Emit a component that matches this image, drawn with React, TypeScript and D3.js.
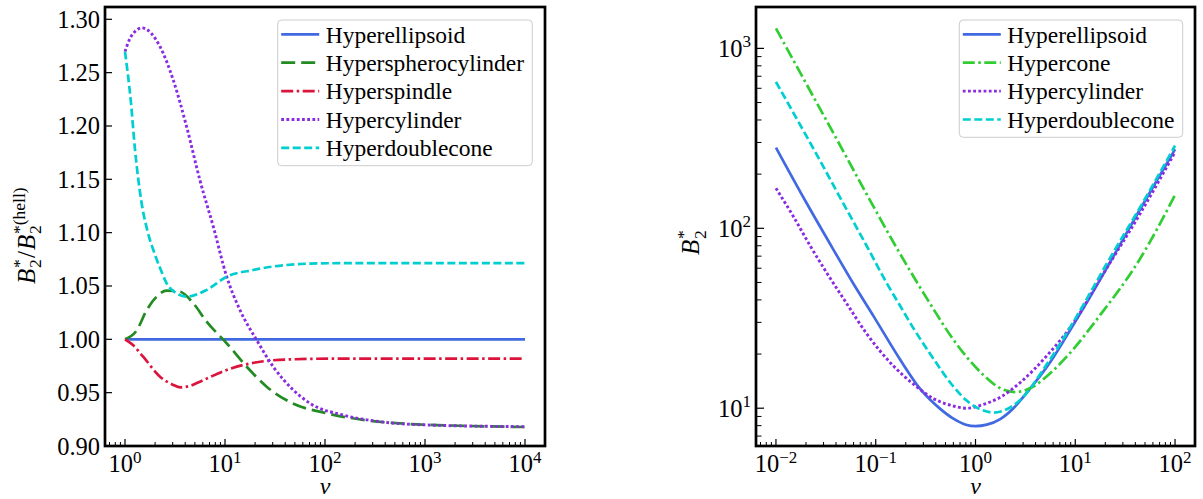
import React from 'react';
import * as d3 from 'd3';

// ---------------- Left panel data: B2*/B2*(hell) vs nu ----------------
const nuEllL = [1, 10, 100, 1000, 10000];
const valEllL = [1, 1, 1, 1, 1];

const nuSph = [1, 1.31, 1.65, 2.07, 2.61, 3.55, 4.82, 6.55, 10.4, 16.5, 26.1, 45, 105, 282, 700, 2240, 10000];
const valSph = [1.0, 1.0084, 1.0275, 1.04, 1.0456, 1.0447, 1.0338, 1.0166, 0.9963, 0.9743, 0.9556, 0.941, 0.9306, 0.9237, 0.9206, 0.919, 0.9178];

const nuSpin = [1, 1.21, 1.52, 2.24, 3.0, 3.6, 4.5, 5.62, 10.4, 22.4, 48, 150, 1000, 10000];
const valSpin = [1.0, 0.9944, 0.9837, 0.965, 0.9575, 0.955, 0.9565, 0.9603, 0.9713, 0.979, 0.9813, 0.982, 0.982, 0.982];

const nuCylL = [1, 1.12, 1.26, 1.47, 2.24, 3.04, 4.14, 5.62, 7.64, 10.4, 14.1, 20.7, 30.4, 48.2, 70.8, 152, 355, 1050, 10000];
const valCylL = [1.2697, 1.282, 1.2885, 1.292, 1.2744, 1.243, 1.199, 1.149, 1.1056, 1.0587, 1.0275, 0.9994, 0.9743, 0.9525, 0.94, 0.929, 0.9228, 0.9197, 0.9181];

const nuDcL = [1, 1.14, 1.26, 1.45, 1.7, 1.92, 2.24, 2.61, 3.29, 4.14, 6.55, 10.4, 19.2, 41.4, 105, 1000, 10000];
const valDcL = [1.2697, 1.2244, 1.1775, 1.1306, 1.0995, 1.0837, 1.0669, 1.0525, 1.0431, 1.04, 1.0463, 1.0587, 1.065, 1.0697, 1.0713, 1.0715, 1.0715];

// ---------------- Right panel data: B2* vs nu ----------------
const nuEllR = [0.01, 0.02, 0.037, 0.06, 0.095, 0.176, 0.279, 0.44, 0.6, 0.8, 1, 1.3, 1.77, 2.4, 3.27, 5.6, 9.6, 12.9, 20.8, 44.8, 100];
const valEllR = [281, 140, 77.4, 49, 32.5, 18.6, 12.8, 9.95, 8.75, 8.1, 7.95, 8.1, 8.7, 10.0, 12.2, 18.0, 29.2, 38.3, 60.5, 128, 275];

const nuCone = [0.01, 0.02, 0.04, 0.08, 0.163, 0.38, 0.557, 0.82, 1.2, 1.77, 2.5, 3.8, 5.5, 8.25, 17.8, 44.8, 100];
const valCone = [1291, 640, 318, 157, 77.4, 35.5, 25.5, 19.2, 15.3, 12.9, 12.3, 13.2, 15.5, 19.4, 33, 68, 153];

const nuCylR = [0.01, 0.015, 0.022, 0.032, 0.051, 0.081, 0.15, 0.239, 0.38, 0.557, 0.82, 1.2, 1.77, 2.81, 5.2, 9.6, 17.8, 44.8, 100];
const valCylR = [167, 116, 80, 57, 38.3, 26, 17.2, 13.6, 11.3, 10.4, 10.0, 10.5, 11.5, 13.9, 19.6, 29.8, 52.5, 121, 265];

const nuDcR = [0.01, 0.0257, 0.05, 0.081, 0.129, 0.176, 0.239, 0.38, 0.557, 0.82, 1.1, 1.52, 2.0, 2.8, 5.2, 11.2, 20.8, 48.3, 100];
const valDcR = [651, 256, 130, 80, 49.5, 37, 27.8, 18.8, 13.9, 11.0, 9.9, 9.46, 9.8, 11.1, 17.6, 35, 64, 141, 288];

// ---------------- Ticks ----------------
const leftYTicks = [0.9, 0.95, 1.0, 1.05, 1.1, 1.15, 1.2, 1.25, 1.3];
const leftXExps = [0, 1, 2, 3, 4];
const rightXExps = [-2, -1, 0, 1, 2];
const rightYExps = [1, 2, 3];

const FONT = '"Liberation Serif", "Times New Roman", serif';

type Series = { name: string; nu: number[]; val: number[]; color: string; dash: string | null; width: number };

const leftSeries: Series[] = [
  { name: 'Hyperellipsoid', nu: nuEllL, val: valEllL, color: '#4169E1', dash: null, width: 2.7 },
  { name: 'Hyperspherocylinder', nu: nuSph, val: valSph, color: '#228B22', dash: '14,6', width: 2.7 },
  { name: 'Hyperspindle', nu: nuSpin, val: valSpin, color: '#DC143C', dash: '12,3.5,2.5,3.5', width: 2.7 },
  { name: 'Hypercylinder', nu: nuCylL, val: valCylL, color: '#8A2BE2', dash: '2.8,2.4', width: 2.9 },
  { name: 'Hyperdoublecone', nu: nuDcL, val: valDcL, color: '#00CED1', dash: '8,3.5', width: 2.7 },
];

const rightSeries: Series[] = [
  { name: 'Hyperellipsoid', nu: nuEllR, val: valEllR, color: '#4169E1', dash: null, width: 2.7 },
  { name: 'Hypercone', nu: nuCone, val: valCone, color: '#32CD32', dash: '12,3.5,2.5,3.5', width: 2.7 },
  { name: 'Hypercylinder', nu: nuCylR, val: valCylR, color: '#8A2BE2', dash: '2.8,2.4', width: 2.9 },
  { name: 'Hyperdoublecone', nu: nuDcR, val: valDcR, color: '#00CED1', dash: '8,3.5', width: 2.7 },
];

function minorTicks(lo: number, hi: number): number[] {
  const out: number[] = [];
  for (let e = Math.floor(Math.log10(lo)) - 1; e <= Math.ceil(Math.log10(hi)); e++) {
    for (let m = 2; m <= 9; m++) {
      const v = m * Math.pow(10, e);
      if (v >= lo && v <= hi) out.push(v);
    }
  }
  return out;
}

function Legend({ series, x0, y0, w, h }: { series: Series[]; x0: number; y0: number; w: number; h: number }) {
  return (
    <g>
      <rect x={x0} y={y0} width={w} height={h} rx={4} fill="white" fillOpacity={0.8} stroke="#cccccc" strokeWidth={1} />
      {series.map((s, i) => {
        const yy = y0 + 14.3 + i * 28.4;
        return (
          <g key={s.name}>
            <line x1={x0 + 3.5} x2={x0 + 41.5} y1={yy} y2={yy} stroke={s.color} strokeWidth={s.width}
              strokeDasharray={s.dash ?? undefined} />
            <text x={x0 + 48} y={yy + 8.3} fontSize={23.5} fontFamily={FONT} fill="#000">{s.name}</text>
          </g>
        );
      })}
    </g>
  );
}

export default function App() {
  // Left panel
  const L = { x0: 105, x1: 545, y0: 7, y1: 446 };
  const xL = d3.scaleLog().domain([Math.pow(10, -0.2), Math.pow(10, 4.2)]).range([L.x0, L.x1]);
  const yL = d3.scaleLinear().domain([0.9, 0.9 + (446 - 7) / 1066.7]).range([L.y1, L.y0]);

  // Right panel
  const R = { x0: 756, x1: 1195, y0: 7, y1: 446 };
  const xR = d3.scaleLog().domain([Math.pow(10, -2.2), Math.pow(10, 2.2)]).range([R.x0, R.x1]);
  const yR = d3.scaleLog().domain([Math.pow(10, 0.79), Math.pow(10, 3.23)]).range([R.y1, R.y0]);

  const lineL = (s: Series) =>
    d3.line<number>().x((_, i) => xL(s.nu[i])).y((v) => yL(v)).curve(d3.curveMonotoneX)(s.val) || '';
  const lineR = (s: Series) =>
    d3.line<number>().x((_, i) => xR(s.nu[i])).y((v) => yR(v)).curve(d3.curveMonotoneX)(s.val) || '';

  const minorXL = minorTicks(xL.domain()[0], xL.domain()[1]);
  const minorXR = minorTicks(xR.domain()[0], xR.domain()[1]);
  const minorYR = minorTicks(yR.domain()[0], yR.domain()[1]);

  const tickFont = 24.5;
  const supFont = 17;

  return (
    <svg width={1203} height={499} style={{ display: 'block', position: 'absolute', left: 0, top: 0 }}>
      <rect x={0} y={0} width={1203} height={499} fill="white" />
      <defs>
        <clipPath id="clipL"><rect x={L.x0} y={L.y0} width={L.x1 - L.x0} height={L.y1 - L.y0} /></clipPath>
        <clipPath id="clipR"><rect x={R.x0} y={R.y0} width={R.x1 - R.x0} height={R.y1 - R.y0} /></clipPath>
      </defs>

      {/* ---------- LEFT PANEL ---------- */}
      <g clipPath="url(#clipL)">
        {leftSeries.map((s) => (
          <path key={s.name} d={lineL(s)} fill="none" stroke={s.color} strokeWidth={s.width}
            strokeDasharray={s.dash ?? undefined} />
        ))}
      </g>
      {leftYTicks.map((t) => (
        <g key={'ly' + t}>
          <line x1={L.x0} x2={L.x0 + 7} y1={yL(t)} y2={yL(t)} stroke="#000" strokeWidth={1.2} />
          <text x={L.x0 - 5} y={yL(t) + 8.5} textAnchor="end" fontSize={tickFont} fontFamily={FONT}>{t.toFixed(2)}</text>
        </g>
      ))}
      {leftXExps.map((e) => (
        <g key={'lx' + e}>
          <line x1={xL(Math.pow(10, e))} x2={xL(Math.pow(10, e))} y1={L.y1} y2={L.y1 - 7} stroke="#000" strokeWidth={1.2} />
          <text x={xL(Math.pow(10, e))} y={472} textAnchor="middle" fontSize={tickFont} fontFamily={FONT}>
            10<tspan dy={-9.5} fontSize={supFont}>{e < 0 ? '\u2212' + Math.abs(e) : String(e)}</tspan>
          </text>
        </g>
      ))}
      {minorXL.map((v, i) => (
        <line key={'lxm' + i} x1={xL(v)} x2={xL(v)} y1={L.y1} y2={L.y1 - 4} stroke="#000" strokeWidth={1} />
      ))}
      <rect x={L.x0} y={L.y0} width={L.x1 - L.x0} height={L.y1 - L.y0} fill="none" stroke="#000" strokeWidth={2.7} />
      <Legend series={leftSeries} x0={277.7} y0={20} w={254.6} h={145.7} />
      <text x={(L.x0 + L.x1) / 2} y={494} textAnchor="middle" fontSize={24} fontStyle="italic" fontFamily={FONT}>ν</text>
      <g transform="translate(34.5,284) rotate(-90)" fontFamily={FONT}>
        <text x={0} y={0} fontSize={25} fontStyle="italic">B</text>
        <text x={16} y={6.5} fontSize={17.5}>2</text>
        <text x={16} y={-10} fontSize={17.5}>*</text>
        <text x={26} y={0} fontSize={25}>/</text>
        <text x={34} y={0} fontSize={25} fontStyle="italic">B</text>
        <text x={50} y={6.5} fontSize={17.5}>2</text>
        <text x={50} y={-10} fontSize={17.5}>*(hell)</text>
      </g>

      {/* ---------- RIGHT PANEL ---------- */}
      <g clipPath="url(#clipR)">
        {rightSeries.map((s) => (
          <path key={s.name} d={lineR(s)} fill="none" stroke={s.color} strokeWidth={s.width}
            strokeDasharray={s.dash ?? undefined} />
        ))}
      </g>
      {rightYExps.map((e) => (
        <g key={'ry' + e}>
          <line x1={R.x0} x2={R.x0 + 8} y1={yR(Math.pow(10, e))} y2={yR(Math.pow(10, e))} stroke="#000" strokeWidth={1.2} />
          <text x={R.x0 - 5} y={yR(Math.pow(10, e)) + 8.5} textAnchor="end" fontSize={tickFont} fontFamily={FONT}>
            10<tspan dy={-9.5} fontSize={supFont}>{String(e)}</tspan>
          </text>
        </g>
      ))}
      {minorYR.map((v, i) => (
        <line key={'rym' + i} x1={R.x0} x2={R.x0 + 5.5} y1={yR(v)} y2={yR(v)} stroke="#000" strokeWidth={1} />
      ))}
      {rightXExps.map((e) => (
        <g key={'rx' + e}>
          <line x1={xR(Math.pow(10, e))} x2={xR(Math.pow(10, e))} y1={R.y1} y2={R.y1 - 7} stroke="#000" strokeWidth={1.2} />
          <text x={xR(Math.pow(10, e))} y={472} textAnchor="middle" fontSize={tickFont} fontFamily={FONT}>
            10<tspan dy={-9.5} fontSize={supFont}>{e < 0 ? '\u2212' + Math.abs(e) : String(e)}</tspan>
          </text>
        </g>
      ))}
      {minorXR.map((v, i) => (
        <line key={'rxm' + i} x1={xR(v)} x2={xR(v)} y1={R.y1} y2={R.y1 - 4} stroke="#000" strokeWidth={1} />
      ))}
      <rect x={R.x0} y={R.y0} width={R.x1 - R.x0} height={R.y1 - R.y0} fill="none" stroke="#000" strokeWidth={2.7} />
      <Legend series={rightSeries} x0={959.3} y0={20} w={223.4} h={117.3} />
      <text x={(R.x0 + R.x1) / 2} y={494} textAnchor="middle" fontSize={24} fontStyle="italic" fontFamily={FONT}>ν</text>
      <g transform="translate(699,255) rotate(-90)" fontFamily={FONT}>
        <text x={0} y={0} fontSize={25} fontStyle="italic">B</text>
        <text x={16} y={6.5} fontSize={17.5}>2</text>
        <text x={16} y={-10} fontSize={17.5}>*</text>
      </g>
    </svg>
  );
}
